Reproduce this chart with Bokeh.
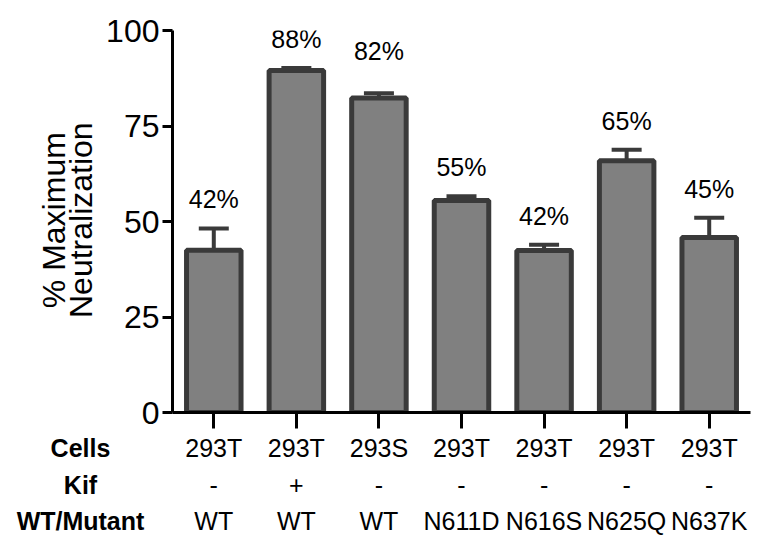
from bokeh.plotting import figure
from bokeh.layouts import row, column
from bokeh.models import (ColumnDataSource, LabelSet, Range1d, FixedTicker, Whisker, TeeHead,
                          CustomJSTickFormatter)
from bokeh.core.properties import value
from bokeh.embed import file_html
from bokeh.resources import INLINE
import math

# ---------------- data ----------------
cells = ["293T", "293T", "293S", "293T", "293T", "293T", "293T"]
kif = ["-", "+", "-", "-", "-", "-", "-"]
wt_mutant = ["WT", "WT", "WT", "N611D", "N616S", "N625Q", "N637K"]
neutralization = [42.5, 89.5, 82.3, 55.5, 42.4, 65.9, 45.8]
sem = [5.7, 0.7, 1.3, 1.1, 1.5, 2.9, 5.2]
pct_labels = ["42%", "88%", "82%", "55%", "42%", "65%", "45%"]
row_names = ["Cells", "Kif", "WT/Mutant"]
y_ticks = [0, 25, 50, 75, 100]
y_title = ["% Maximum", "Neutralization"]

# ---------------- layout ----------------
TOTAL_W, TOTAL_H = 758, 536
LEFT_W = 98                     # column holding the y title
MAIN_W = TOTAL_W - LEFT_W
FRAME_LEFT = 172                # page x of the y axis
FRAME_RIGHT = 750
FRAME_TOP = 30
FRAME_BOTTOM = 412
MAIN_BB = 19
MAIN_H = FRAME_BOTTOM + MAIN_BB
BOTTOM_H = TOTAL_H - MAIN_H
FW = FRAME_RIGHT - FRAME_LEFT
FH = FRAME_BOTTOM - FRAME_TOP
N = len(cells)
XMAX, YMAX = N, 100
px_per_x = FW / XMAX
px_y = YMAX / FH
label_gap_px = [29, 29, 42, 29, 29, 29, 29]
row_page_y = [447, 484, 520]
header_page_x = 80
ytitle_page_x = [53, 80]
ytitle_page_y = 214

FONT = "Liberation Sans"
DARK = "#3a3a3a"
FILL = "#808080"

xs = [i + 0.5 for i in range(N)]
upper = [v + e for v, e in zip(neutralization, sem)]
label_y = [u + g * px_y for u, g in zip(upper, label_gap_px)]

src = ColumnDataSource(dict(x=xs, top=neutralization, upper=upper, lower=neutralization,
                            label=pct_labels, label_y=label_y))

# ---------------- main chart ----------------
p = figure(width=MAIN_W, height=MAIN_H, output_backend="svg", toolbar_location=None,
           x_range=Range1d(0, XMAX), y_range=Range1d(0, YMAX),
           min_border_left=FRAME_LEFT - LEFT_W, min_border_right=TOTAL_W - FRAME_RIGHT,
           min_border_top=FRAME_TOP, min_border_bottom=MAIN_BB)
p.outline_line_color = None
p.xgrid.grid_line_color = None
p.ygrid.grid_line_color = None

p.vbar(x="x", top="top", bottom=0, width=0.66, source=src,
       fill_color=FILL, line_color=DARK, line_width=5)

p.add_layout(Whisker(base="x", upper="upper", lower="lower", source=src,
                     line_color=DARK, line_width=4,
                     upper_head=TeeHead(size=30, line_color=DARK, line_width=4),
                     lower_head=None))

p.add_layout(LabelSet(x="x", y="label_y", text="label", source=src,
                      text_font=value(FONT), text_font_size="25px", text_color="black",
                      text_align="center", text_baseline="middle"))

p.yaxis.ticker = FixedTicker(ticks=y_ticks)
p.yaxis.minor_tick_line_color = None
p.yaxis.major_tick_in = 0
p.yaxis.major_tick_out = 10
p.yaxis.axis_line_width = 3
p.yaxis.major_tick_line_width = 3
p.yaxis.axis_line_color = "black"
p.yaxis.major_tick_line_color = "black"
p.yaxis.major_label_text_font = FONT
p.yaxis.major_label_text_font_size = "32px"
p.yaxis.major_label_text_color = "black"
p.yaxis.major_label_standoff = 3

p.xaxis.ticker = FixedTicker(ticks=xs)
p.xaxis.minor_tick_line_color = None
p.xaxis.major_tick_in = 0
p.xaxis.major_tick_out = 16
p.xaxis.axis_line_width = 3
p.xaxis.major_tick_line_width = 3
p.xaxis.axis_line_color = "black"
p.xaxis.major_tick_line_color = "black"
p.xaxis.major_label_standoff = 0
p.xaxis.formatter = CustomJSTickFormatter(code="return '';")

# ---------------- y title column ----------------
lt = figure(width=LEFT_W, height=MAIN_H, output_backend="svg", toolbar_location=None,
            x_range=Range1d(0, LEFT_W), y_range=Range1d(0, MAIN_H),
            x_axis_type=None, y_axis_type=None,
            min_border_left=0, min_border_right=0, min_border_top=0, min_border_bottom=0)
lt.outline_line_color = None
lt.xgrid.grid_line_color = None
lt.ygrid.grid_line_color = None
lt.text(x=ytitle_page_x, y=[MAIN_H - ytitle_page_y] * len(y_title), text=y_title,
        angle=math.pi / 2, text_font=value(FONT), text_font_size="32px",
        text_color="black", text_align="center", text_baseline="middle")

# ---------------- row labels below ----------------
bt = figure(width=TOTAL_W, height=BOTTOM_H, output_backend="svg", toolbar_location=None,
            x_range=Range1d(-FRAME_LEFT / px_per_x, (TOTAL_W - FRAME_LEFT) / px_per_x),
            y_range=Range1d(0, BOTTOM_H),
            x_axis_type=None, y_axis_type=None,
            min_border_left=0, min_border_right=0, min_border_top=0, min_border_bottom=0)
bt.outline_line_color = None
bt.xgrid.grid_line_color = None
bt.ygrid.grid_line_color = None
for vals, py in zip([cells, kif, wt_mutant], row_page_y):
    bt.text(x=xs, y=[TOTAL_H - py] * N, text=vals,
            text_font=value(FONT), text_font_size="25px", text_color="black",
            text_align="center", text_baseline="middle")
bt.text(x=[(header_page_x - FRAME_LEFT) / px_per_x] * len(row_names),
        y=[TOTAL_H - py for py in row_page_y], text=row_names,
        text_font=value(FONT), text_font_size="25px", text_font_style="bold",
        text_color="black", text_align="center", text_baseline="middle")

layout = column(row(lt, p), bt)
open("out.html", "w").write(file_html(layout, INLINE))
